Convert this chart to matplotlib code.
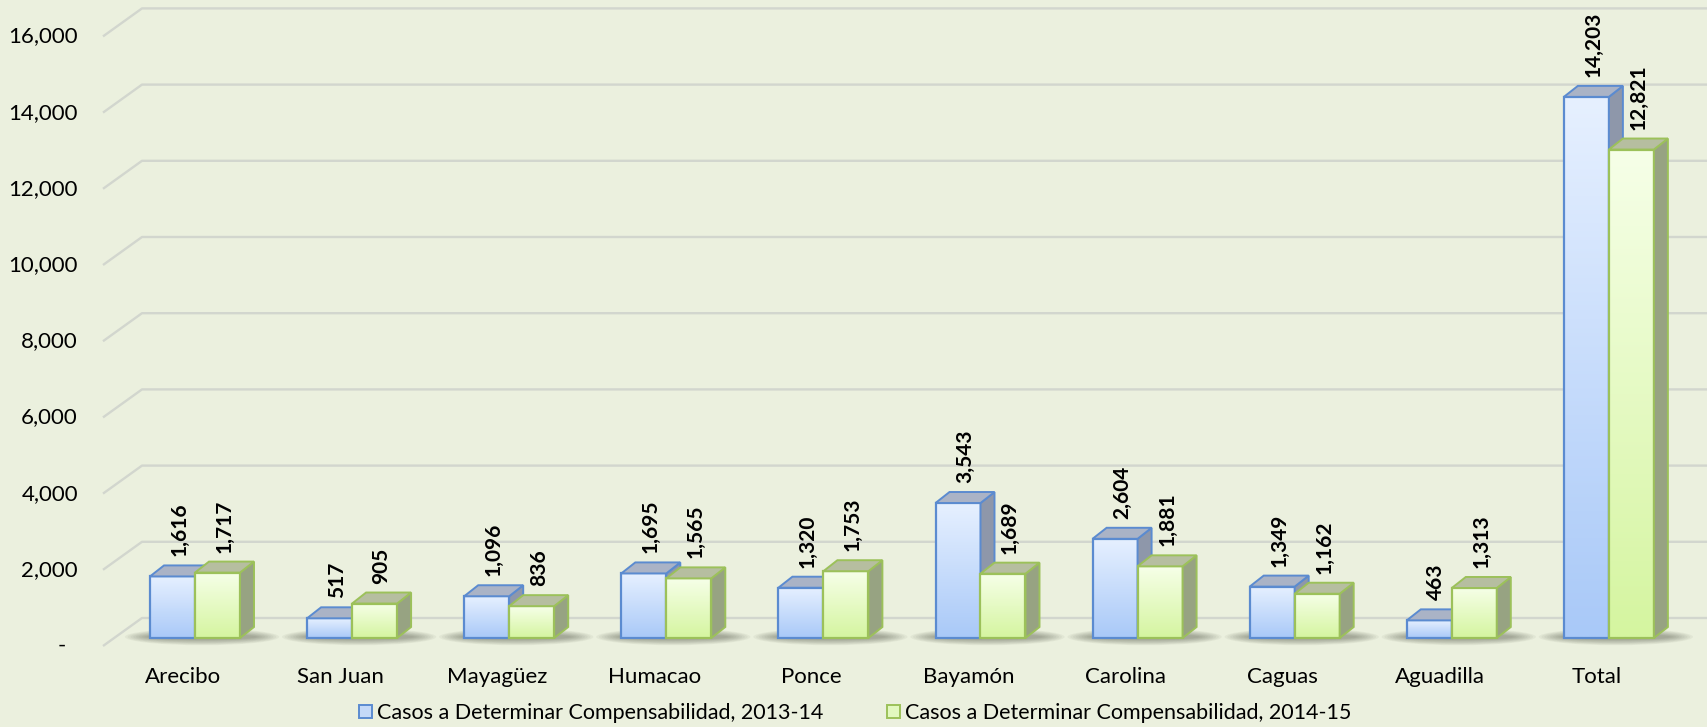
import numpy as np
from matplotlib import pyplot as plt
from matplotlib.patches import Polygon, Patch, Ellipse
from matplotlib.colors import to_rgb

# datos
regiones = ['Arecibo', 'San Juan', 'Mayagüez', 'Humacao', 'Ponce',
            'Bayamón', 'Carolina', 'Caguas', 'Aguadilla', 'Total']
casos_2013_14 = [1616, 517, 1096, 1695, 1320, 3543, 2604, 1349, 463, 14203]
casos_2014_15 = [1717, 905, 836, 1565, 1753, 1689, 1881, 1162, 1313, 12821]
serie_nombres = ['Casos a Determinar Compensabilidad, 2013-14',
                 'Casos a Determinar Compensabilidad, 2014-15']
y_ticks = [0, 2000, 4000, 6000, 8000, 10000, 12000, 14000, 16000]

plt.rcParams['font.family'] = ['Lato', 'DejaVu Sans']

BG = '#ebf0de'
PX_X = 157.1      # pixels por categoria
PX_Y = 0.0381     # pixels por unidad
DX = 14 / PX_X    # profundidad 3D
DY = 11 / PX_Y
W = 45 / PX_X
BACK_OFF = 20 / PX_Y
FRONT_OFF = -8 / PX_Y

estilos = [
    dict(top='#e6f0ff', bot='#a9c9f8', edge='#5b8bd0', side='#8e97aa', cap='#aab3c6'),
    dict(top='#f6ffe8', bot='#d5f5a0', edge='#9cc15a', side='#97a382', cap='#b6bea0'),
]

fig = plt.figure(figsize=(17.07, 7.27), dpi=100, facecolor=BG)
ax = fig.add_axes([0, 0, 1, 1])
ax.set_facecolor(BG)
ax.axis('off')

x_min, x_max = -183 / PX_X, (1707 - 183) / PX_X
y_min, y_max = -(727 - 638) / PX_Y, 638 / PX_Y

# rejilla
gx_front, gx_back = (103 - 183) / PX_X, (142 - 183) / PX_X
for v in y_ticks:
    ax.plot([gx_front, gx_back, x_max], [v + FRONT_OFF, v + BACK_OFF, v + BACK_OFF],
            color='#d2d6ce', lw=1.7, zorder=1, solid_capstyle='butt')
    if v == 0:
        ax.text((62 - 183) / PX_X, v + FRONT_OFF, '-', ha='center', va='center', fontsize=16)
    else:
        ax.text((78 - 183) / PX_X, v + FRONT_OFF, f'{v:,}', ha='right', va='center', fontsize=16)


def gradiente(c_top, c_bot, n=64):
    t = np.linspace(0, 1, n)[:, None]
    a, b = np.array(to_rgb(c_bot)), np.array(to_rgb(c_top))
    return (a + (b - a) * t)[:, None, :]


def barra_3d(x0, h, st, z):
    x1 = x0 + W
    img = gradiente(st['top'], st['bot'])
    ax.imshow(img, extent=(x0, x1, 0, h), origin='lower', aspect='auto',
              interpolation='bilinear', zorder=z)
    ax.bar(x0, h, width=W, align='edge', fill=False, edgecolor=st['edge'], lw=1.6, zorder=z + 0.1)
    side = Polygon([(x1, 0), (x1 + DX, DY), (x1 + DX, h + DY), (x1, h)], closed=True,
                   facecolor=st['side'], edgecolor=st['edge'], lw=1.4, zorder=z + 0.2)
    cap = Polygon([(x0, h), (x1, h), (x1 + DX, h + DY), (x0 + DX, h + DY)], closed=True,
                  facecolor=st['cap'], edgecolor=st['edge'], lw=1.4, zorder=z + 0.2)
    ax.add_patch(side)
    ax.add_patch(cap)
    ax.text(x0 + W / 2 + DX / 2, h + DY + 9 / PX_Y, f'{h:,}', rotation=90,
            ha='center', va='bottom', fontsize=15, fontweight='bold', zorder=z + 0.3)


for i, reg in enumerate(regiones):
    bx = i - 33 / PX_X
    # sombra
    cx = bx + W + DX / 2
    for k in range(9):
        f = 1 - k / 9
        ax.add_patch(Ellipse((cx, 30), 2 * W + DX + 0.32 * f, 110 + 330 * f,
                             facecolor='#45483a', edgecolor='none', alpha=0.055, zorder=2))
    z = 3 + i
    barra_3d(bx, casos_2013_14[i], estilos[0], z)
    barra_3d(bx + W, casos_2014_15[i], estilos[1], z + 0.5)
    ax.text(i, -(677 - 638) / PX_Y, reg, ha='center', va='center', fontsize=16)

ax.set_xlim(x_min, x_max)
ax.set_ylim(y_min, y_max)

handles = [Patch(facecolor='#c4d9f8', edgecolor=estilos[0]['edge'], lw=1.4),
           Patch(facecolor='#e2f8bf', edgecolor=estilos[1]['edge'], lw=1.4)]
fig.legend(handles, serie_nombres, loc='center', bbox_to_anchor=(0.501, 14 / 727),
           ncol=2, frameon=False, fontsize=15.5, handlelength=0.6, handleheight=0.6,
           handletextpad=0.2, columnspacing=3.0, borderpad=0.1)

fig.savefig('out.png', dpi=100, facecolor=BG)
